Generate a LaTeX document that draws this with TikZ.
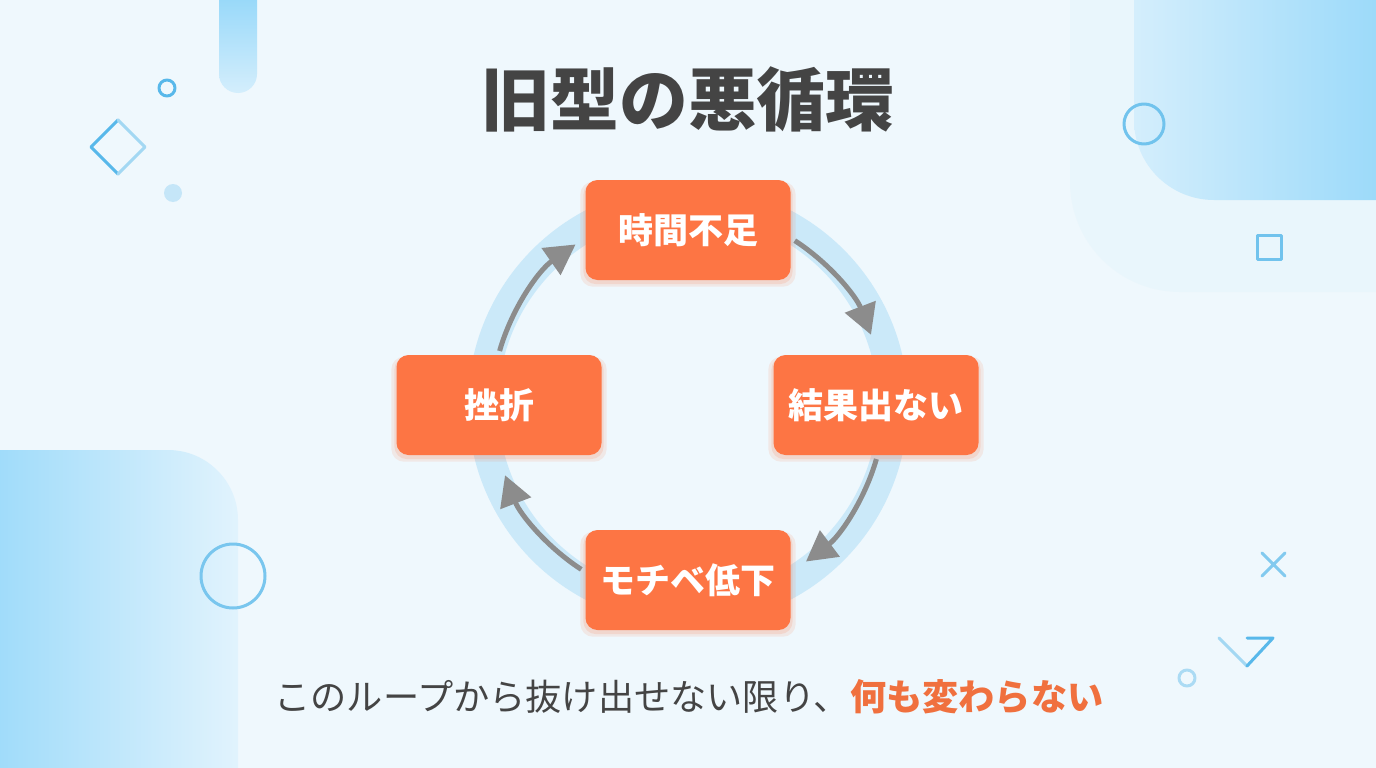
\documentclass[tikz,border=0pt]{standalone}
\usepackage{fontspec}
\newfontfamily\cjk{Noto Sans CJK JP}
\usetikzlibrary{arrows.meta,positioning,calc,shadows}
\definecolor{paleground}{RGB}{239,248,253}
\definecolor{skyblue}{RGB}{128,208,248}
\definecolor{mistblue}{RGB}{212,238,252}
\definecolor{ringblue}{RGB}{203,233,249}
\definecolor{lineblue}{RGB}{88,184,234}
\definecolor{boxorange}{RGB}{253,117,68}
\definecolor{textorange}{RGB}{240,112,62}
\definecolor{inkgray}{RGB}{68,68,68}
\definecolor{arrowgray}{RGB}{140,140,140}
\tikzset{
  cyclebox/.style={fill=boxorange,rounded corners=12pt,minimum width=205pt,
    minimum height=100pt,text=white,font=\cjk\bfseries\fontsize{35}{40}\selectfont,
    general shadow={shadow scale=1.05,shadow yshift=-4pt,opacity=.12,fill=boxorange},
    general shadow={shadow scale=1.02,shadow yshift=-3pt,opacity=.15,fill=boxorange}},
  cyclearrow/.style={draw=arrowgray,line width=5pt,->},
  decoline/.style={draw=lineblue,line width=3pt,line cap=round,line join=round}}
\begin{document}
\begin{tikzpicture}[x=1pt,y=-1pt,>={Triangle[length=30pt,width=32pt]}]
\useasboundingbox (0,0) rectangle (1376,768);
\fill[paleground] (0,0) rectangle (1376,768);
% corner panels
\fill[mistblue,opacity=.2,rounded corners=110pt] (1070,-150) rectangle (1500,292);
\shade[left color=mistblue,right color=skyblue,rounded corners=80pt] (1134,-120) rectangle (1500,200);
\shade[left color=skyblue,right color=mistblue!70!white,rounded corners=70pt] (-120,450) rectangle (238,900);
\shade[top color=skyblue,bottom color=mistblue,rounded corners=19pt] (219,-40) rectangle (257,93);
% small shapes
\draw[decoline] (167,88) circle[radius=8];
\draw[decoline] (118,120) -- (91,147) -- (118,174);
\draw[decoline,draw=lineblue!55] (118,120) -- (145,147) -- (118,174);
\fill[lineblue!35] (173,193) circle[radius=9];
\draw[decoline,draw=lineblue!85] (1144,124) circle[radius=20];
\draw[decoline,line cap=butt,draw=lineblue!85] (1257,235) rectangle (1281,259);
\draw[decoline,draw=lineblue!80] (233,576) circle[radius=32];
\draw[decoline,draw=lineblue!75] (1262,553) -- (1285,576) (1285,553) -- (1262,576);
\draw[decoline,draw=lineblue!55] (1219,638) -- (1247,666);
\draw[decoline] (1247,666) -- (1273,638) -- (1247,638);
\draw[decoline,draw=lineblue!50] (1187,678) circle[radius=8];
% title
\node[text=inkgray,font=\cjk\bfseries\fontsize{68.8}{80}\selectfont] (title) at (688,99) {旧型の悪循環};
% loop
\coordinate (ring) at (688,405);
\draw[ringblue,line width=30pt] (ring) circle[radius=205];
\node[cyclebox] (time) at (688,230) {時間不足};
\node[cyclebox] (result) at (876,405) {結果出ない};
\node[cyclebox] (motive) at (688,580) {モチベ低下};
\node[cyclebox] (quit) at (499,405) {挫折};
\draw[cyclearrow] ($(ring)+(-57:196)$) arc[start angle=-57,end angle=-21,radius=196];
\draw[cyclearrow] ($(ring)+(16:196)$) arc[start angle=16,end angle=53,radius=196];
\draw[cyclearrow] ($(ring)+(123:196)$) arc[start angle=123,end angle=159,radius=196];
\draw[cyclearrow] ($(ring)+(-164:196)$) arc[start angle=-164,end angle=-125,radius=196];
% message
\node[font=\cjk\fontsize{36.2}{40}\selectfont] (message) at (689,697)
  {{\color{inkgray}このループから抜け出せない限り、}{\color{textorange}\bfseries 何も変わらない}};
\end{tikzpicture}
\end{document}
